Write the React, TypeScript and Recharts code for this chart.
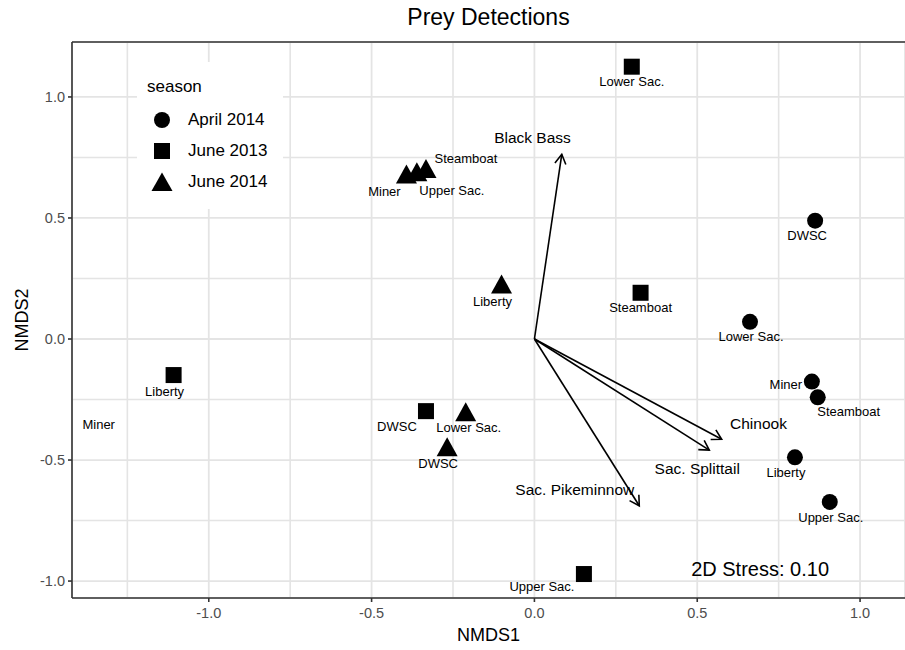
import React from "react";
import { ScatterChart, Scatter, XAxis, YAxis, CartesianGrid, ReferenceLine } from "recharts";

const FONT = "'Liberation Sans', Arial, Helvetica, sans-serif";

// ---- data (NMDS scores) ----
const apr2014Sites = ["DWSC", "Lower Sac.", "Miner", "Steamboat", "Liberty", "Upper Sac."];
const apr2014X = [0.862, 0.662, 0.852, 0.870, 0.800, 0.907];
const apr2014Y = [0.489, 0.071, -0.176, -0.241, -0.489, -0.673];

const jun2013Sites = ["Lower Sac.", "Steamboat", "Liberty", "DWSC", "Upper Sac."];
const jun2013X = [0.299, 0.326, -1.108, -0.333, 0.152];
const jun2013Y = [1.125, 0.191, -0.149, -0.298, -0.971];

const jun2014Sites = ["Miner", "Upper Sac.", "Steamboat", "Liberty", "Lower Sac.", "DWSC"];
const jun2014X = [-0.393, -0.361, -0.333, -0.101, -0.211, -0.268];
const jun2014Y = [0.678, 0.687, 0.7, 0.223, -0.305, -0.449];

// label left without a plotted point (June 2013, Miner)
const strayLabel = "Miner";
const strayX = -1.338;
const strayY = -0.355;

const vectorNames = ["Black Bass", "Chinook", "Sac. Splittail", "Sac. Pikeminnow"];
const vectorX = [0.084, 0.575, 0.537, 0.322];
const vectorY = [0.763, -0.414, -0.459, -0.689];
const vectorLabelX = [-0.006, 0.688, 0.5, 0.124];
const vectorLabelY = [0.833, -0.348, -0.537, -0.621];

const stressText = "2D Stress: 0.10";
const stressX = 0.693;
const stressY = -0.95;

const xTicks = [-1, -0.5, 0, 0.5, 1];
const yTicks = [-1, -0.5, 0, 0.5, 1];
const xMinor = [-1.25, -0.75, -0.25, 0.25, 0.75];
const yMinor = [-0.75, -0.25, 0.25, 0.75];

const legendTitle = "season";
const legendLabels = ["April 2014", "June 2013", "June 2014"];

// ---- layout: label nudges in pixels ----
const apr2014Nudge = [[-8, 15], [1, 15], [-26, 3], [31, 14], [-9, 15], [1, 16]];
const jun2013Nudge = [[0, 15], [0, 15], [-9, 16], [-29, 15], [-42, 12]];
const jun2014Nudge = [[-22, 17], [35, 18], [40, -11], [-9, 16], [3, 15], [-9, 16]];

const X_DOMAIN: [number, number] = [-1.42, 1.138];
const Y_DOMAIN: [number, number] = [-1.07, 1.227];

const build = (sites: string[], xs: number[], ys: number[], nudge: number[][]) =>
  sites.map((s, i) => ({ site: s, x: xs[i], y: ys[i], dx: nudge[i][0], dy: nudge[i][1] }));

const aprData = build(apr2014Sites, apr2014X, apr2014Y, apr2014Nudge);
const j13Data = build(jun2013Sites, jun2013X, jun2013Y, jun2013Nudge);
const j14Data = build(jun2014Sites, jun2014X, jun2014Y, jun2014Nudge);
const vectorLabelData = vectorNames.map((n, i) => ({ name: n, x: vectorLabelX[i], y: vectorLabelY[i] }));
const strayData = [{ name: strayLabel, x: strayX, y: strayY }];
const stressData = [{ name: stressText, x: stressX, y: stressY }];

const PointLabel = ({ cx, cy, p }: any) => (
  <text
    x={cx + p.dx}
    y={cy + p.dy}
    textAnchor="middle"
    dominantBaseline="central"
    fontSize={13}
    fontFamily={FONT}
    fill="#000"
  >
    {p.site}
  </text>
);

const circleShape = (props: any) => {
  const { cx, cy, payload } = props;
  return (
    <g>
      <circle cx={cx} cy={cy} r={8} fill="#000" />
      <PointLabel cx={cx} cy={cy} p={payload} />
    </g>
  );
};
const squareShape = (props: any) => {
  const { cx, cy, payload } = props;
  return (
    <g>
      <rect x={cx - 8} y={cy - 8} width={16} height={16} fill="#000" />
      <PointLabel cx={cx} cy={cy} p={payload} />
    </g>
  );
};
const triangleShape = (props: any) => {
  const { cx, cy, payload } = props;
  return (
    <g>
      <polygon points={`${cx},${cy - 10.5} ${cx - 10.5},${cy + 8.5} ${cx + 10.5},${cy + 8.5}`} fill="#000" />
      <PointLabel cx={cx} cy={cy} p={payload} />
    </g>
  );
};
const textShape = (size: number) => (props: any) => {
  const { cx, cy, payload } = props;
  return (
    <text
      x={cx}
      y={cy}
      textAnchor="middle"
      dominantBaseline="central"
      fontSize={size}
      fontFamily={FONT}
      fill="#000"
    >
      {payload.name}
    </text>
  );
};

const arrowShape = (props: any) => {
  const { x1, y1, x2, y2 } = props;
  const ang = Math.atan2(y2 - y1, x2 - x1);
  const L = 11;
  const a = Math.PI / 6;
  const ax = x2 - L * Math.cos(ang - a);
  const ay = y2 - L * Math.sin(ang - a);
  const bx = x2 - L * Math.cos(ang + a);
  const by = y2 - L * Math.sin(ang + a);
  return (
    <g>
      <line x1={x1} y1={y1} x2={x2} y2={y2} stroke="#000" strokeWidth={1.6} />
      <polyline
        points={`${ax},${ay} ${x2},${y2} ${bx},${by}`}
        fill="none"
        stroke="#000"
        strokeWidth={1.6}
        strokeLinejoin="miter"
      />
    </g>
  );
};

const GRID = "#e4e4e4";

const LegendMarker = ({ i }: { i: number }) => {
  if (i === 0) return <circle cx={12} cy={12} r={8} fill="#000" />;
  if (i === 1) return <rect x={4} y={4} width={16} height={16} fill="#000" />;
  return <polygon points="12,2.5 1.5,21 22.5,21" fill="#000" />;
};

export default function App() {
  return (
    <div style={{ position: "absolute", left: 0, top: 0, width: 905, height: 650, background: "#fff", fontFamily: FONT }}>
      <ScatterChart width={905} height={650} margin={{ top: 42, right: 0, bottom: 0, left: 0 }}>
        <CartesianGrid stroke={GRID} strokeWidth={1.8} />
        {xMinor.map((v) => (
          <ReferenceLine key={"xm" + v} x={v} stroke={GRID} strokeWidth={1.6} />
        ))}
        {yMinor.map((v) => (
          <ReferenceLine key={"ym" + v} y={v} stroke={GRID} strokeWidth={1.6} />
        ))}
        <ReferenceLine y={Y_DOMAIN[1]} stroke="#333" strokeWidth={1.6} />
        <XAxis
          type="number"
          dataKey="x"
          domain={X_DOMAIN}
          allowDataOverflow
          ticks={xTicks}
          tickFormatter={(v: number) => v.toFixed(1)}
          height={52}
          axisLine={{ stroke: "#333", strokeWidth: 1.6 }}
          tickLine={{ stroke: "#333", strokeWidth: 1.6 }}
          tickSize={4}
          tickMargin={6}
          tick={{ fill: "#4d4d4d", fontSize: 14.5, fontFamily: FONT }}
        />
        <YAxis
          type="number"
          dataKey="y"
          domain={Y_DOMAIN}
          allowDataOverflow
          ticks={yTicks}
          tickFormatter={(v: number) => v.toFixed(1)}
          width={72}
          axisLine={{ stroke: "#333", strokeWidth: 1.6 }}
          tickLine={{ stroke: "#333", strokeWidth: 1.6 }}
          tickSize={4}
          tickMargin={3}
          tick={{ fill: "#4d4d4d", fontSize: 14.5, fontFamily: FONT }}
        />
        {vectorNames.map((n, i) => (
          <ReferenceLine
            key={"v" + n}
            segment={[
              { x: 0, y: 0 },
              { x: vectorX[i], y: vectorY[i] },
            ]}
            shape={arrowShape}
          />
        ))}
        <Scatter name="April 2014" data={aprData} shape={circleShape} isAnimationActive={false} />
        <Scatter name="June 2013" data={j13Data} shape={squareShape} isAnimationActive={false} />
        <Scatter name="June 2014" data={j14Data} shape={triangleShape} isAnimationActive={false} />
        <Scatter name="stray" data={strayData} shape={textShape(13)} isAnimationActive={false} />
        <Scatter name="vectors" data={vectorLabelData} shape={textShape(15.5)} isAnimationActive={false} />
        <Scatter name="stress" data={stressData} shape={textShape(20)} isAnimationActive={false} />
      </ScatterChart>

      {/* title */}
      <div
        style={{
          position: "absolute",
          left: 72,
          width: 833,
          top: 2,
          textAlign: "center",
          fontSize: 23,
          lineHeight: "30px",
          color: "#000",
        }}
      >
        Prey Detections
      </div>
      {/* x axis title */}
      <div
        style={{
          position: "absolute",
          left: 72,
          width: 833,
          top: 623,
          textAlign: "center",
          fontSize: 18,
          lineHeight: "24px",
          color: "#000",
        }}
      >
        NMDS1
      </div>
      {/* y axis title */}
      <div
        style={{
          position: "absolute",
          left: 22 - 60,
          top: 320 - 12,
          width: 120,
          height: 24,
          textAlign: "center",
          fontSize: 18,
          lineHeight: "24px",
          color: "#000",
          transform: "rotate(-90deg)",
        }}
      >
        NMDS2
      </div>
      {/* legend */}
      <div
        style={{
          position: "absolute",
          left: 137,
          top: 62,
          width: 146,
          height: 147,
          background: "#fff",
        }}
      >
        <div style={{ position: "absolute", left: 10, top: 13, fontSize: 17, lineHeight: "24px", color: "#000" }}>
          {legendTitle}
        </div>
        {legendLabels.map((l, i) => (
          <div key={l} style={{ position: "absolute", left: 13, top: 46 + i * 31, height: 24, display: "flex", alignItems: "center" }}>
            <svg width={24} height={24}>
              <LegendMarker i={i} />
            </svg>
            <span style={{ marginLeft: 14, fontSize: 17, lineHeight: "24px", color: "#000", whiteSpace: "nowrap" }}>{l}</span>
          </div>
        ))}
      </div>
    </div>
  );
}
